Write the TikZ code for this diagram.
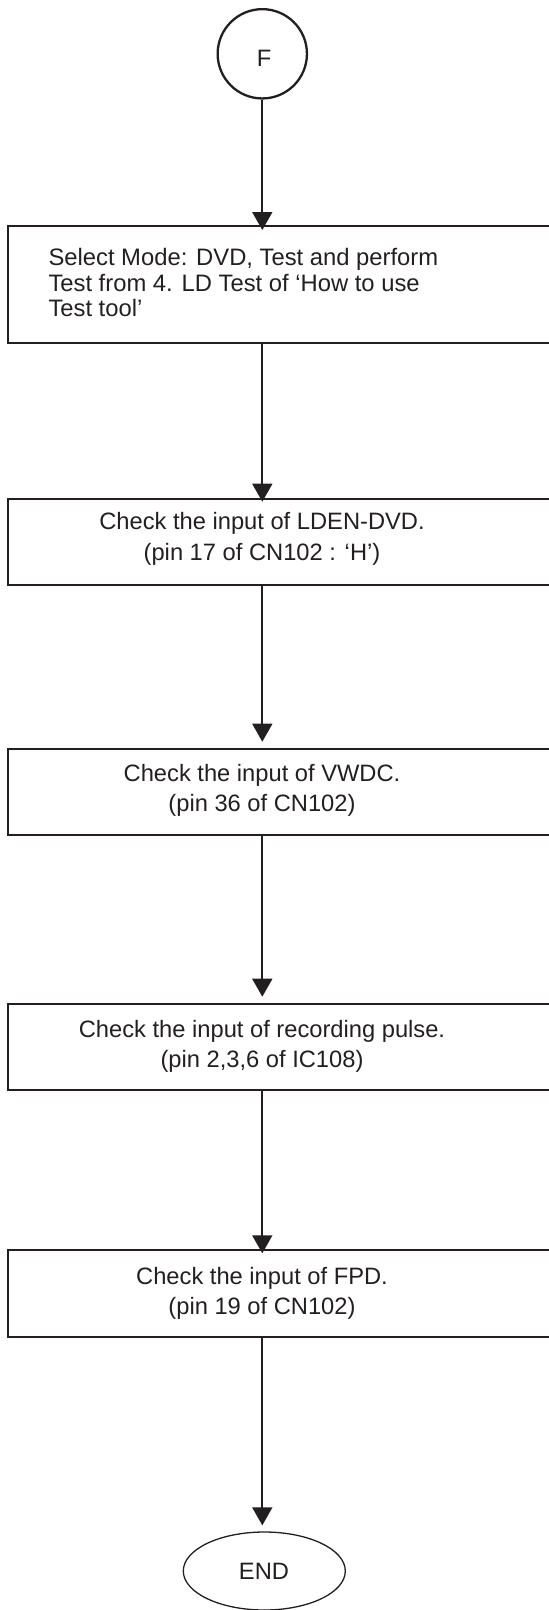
\documentclass[tikz,border=0pt]{standalone}
\usepackage{fontspec}
\setmainfont{Liberation Sans}
\usetikzlibrary{arrows.meta,shapes.geometric}
\definecolor{ink}{RGB}{35,31,32}
\begin{document}
\begin{tikzpicture}[x=1pt,y=-1pt,
  box/.style={draw=ink,line width=1.6pt,rectangle,anchor=north west,minimum width=580pt,inner sep=0pt},
  txt/.style={font=\fontsize{23.7}{30.7}\selectfont,text=ink,align=center,inner sep=0pt},
  flow/.style={draw=ink,line width=1.7pt,-{Triangle[width=20pt,length=18pt]}}]
\useasboundingbox (0,0) rectangle (549,1610);
\clip (0,0) rectangle (549,1610);
\node[circle,draw=ink,line width=2.3pt,minimum size=89.3pt,inner sep=0pt] (F) at (262.3,53.8) {};
\node[txt] (Ft) at (264,58) {F};
\node[box,minimum height=117pt] (b1) at (7,225) {};
\node[txt,align=left,anchor=west,font=\fontsize{23.8}{25.3}\selectfont] (t1) at (48.3,282.5) {Select Mode: DVD, Test and perform\\Test from 4. LD Test of ‘How to use\\Test tool’};
\node[box,minimum height=86pt] (b2) at (7,498.3) {};
\node[txt] (t2) at (262,538.7) {Check the input of LDEN-DVD.\\(pin 17 of CN102 : ‘H’)};
\node[box,minimum height=86pt] (b3) at (7,748.3) {};
\node[txt] (t3) at (262,790.4) {Check the input of VWDC.\\(pin 36 of CN102)};
\node[box,minimum height=86pt] (b4) at (7,1003.3) {};
\node[txt] (t4) at (262,1046.5) {Check the input of recording pulse.\\(pin 2,3,6 of IC108)};
\node[box,minimum height=86.7pt] (b5) at (7,1249.3) {};
\node[txt] (t5) at (262,1293.4) {Check the input of FPD.\\(pin 19 of CN102)};
\node[ellipse,draw=ink,line width=1.3pt,minimum width=162pt,minimum height=78pt,inner sep=0pt] (E) at (264.3,1571) {};
\node[txt] (Et) at (264,1571.7) {END};
\draw[flow,shorten >=-5pt] (F.south) -- (b1.north -| F.south);
\draw[flow,shorten >=-3.4pt] (b1.south -| F.south) -- (b2.north -| F.south);
\draw[flow,shorten >=6.6pt] (b2.south -| F.south) -- (b3.north -| F.south);
\draw[flow,shorten >=6.6pt] (b3.south -| F.south) -- (b4.north -| F.south);
\draw[flow,shorten >=-4pt] (b4.south -| F.south) -- (b5.north -| F.south);
\draw[flow,shorten >=6pt] (b5.south -| F.south) -- (E.north -| F.south);
\end{tikzpicture}
\end{document}
